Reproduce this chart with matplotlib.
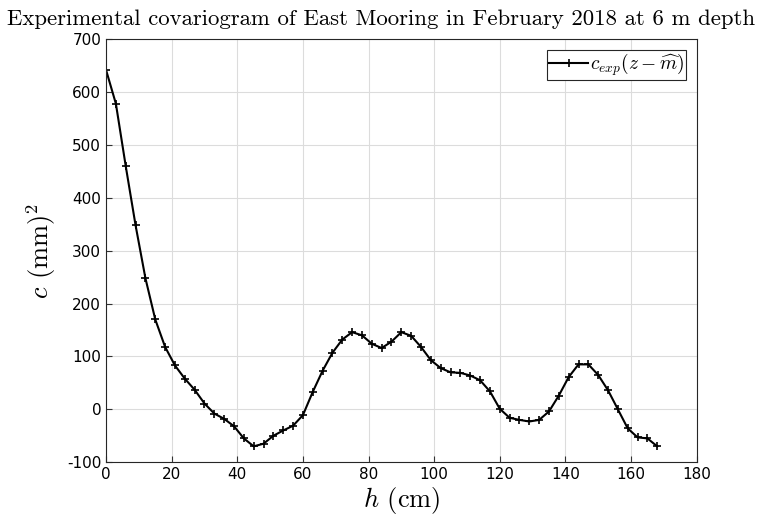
import numpy as np
import matplotlib
matplotlib.use('Agg')
import matplotlib.pyplot as plt

# lag distances (cm) and experimental covariance values (mm^2)
lags = np.arange(0, 169, 3)
cov = [642, 578, 460, 348, 248, 170, 118, 83, 58, 37,
       11, -8, -18, -32, -55, -70, -65, -50, -40, -31,
       -11, 33, 73, 107, 132, 146, 140, 124, 116, 128,
       146, 139, 118, 93, 78, 70, 69, 64, 55, 34,
       1, -16, -20, -23, -20, -4, 26, 61, 85, 85,
       65, 36, 0, -36, -53, -55, -70]

plt.rcParams['mathtext.fontset'] = 'cm'
plt.rcParams['axes.unicode_minus'] = False

fig = plt.figure(figsize=(7.63, 5.17), dpi=100)
ax = fig.add_axes([0.139, 0.106, 0.774, 0.818])

ax.plot(lags, cov, color='black', linewidth=1.5, marker='+', markersize=6,
        markeredgewidth=1.2, label=r'$c_{exp}(z-\widehat{m})$')

ax.set_xlim(0, 180)
ax.set_ylim(-100, 700)
ax.set_xticks(np.arange(0, 181, 20))
ax.set_yticks(np.arange(-100, 701, 100))
ax.grid(True, color='#dcdcdc', linewidth=0.8)
ax.tick_params(direction='in', labelsize=11, length=4, color='#333333')
for s in ax.spines.values():
    s.set_linewidth(0.8)
    s.set_color('#262626')

ax.set_xlabel(r'$h$ (cm)', fontsize=19, fontfamily='cmr10', labelpad=2)
ax.set_ylabel(r'$c$ (mm)$^2$', fontsize=19, fontfamily='cmr10', labelpad=6)
# title is centred on the figure (it is wider than the axes)
fig.text(0.5, 0.962, 'Experimental covariogram of East Mooring in February 2018 at 6 m depth',
         fontsize=16.4, fontfamily='cmr10', ha='center', va='center')

leg = ax.legend(loc='upper right', fontsize=14, handlelength=2.0,
                fancybox=False, edgecolor='#262626', framealpha=1,
                borderpad=0.1, handletextpad=0.1, borderaxespad=0.55)
leg.get_frame().set_linewidth(0.8)

fig.savefig('out.png', dpi=100)
